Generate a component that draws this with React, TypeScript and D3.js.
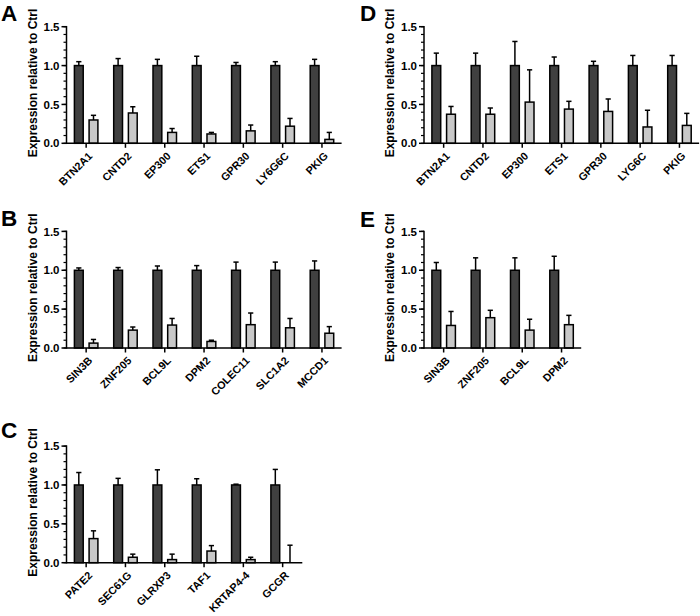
import React from 'react';
import * as d3 from 'd3';

// ---------- DATA ----------
const genesA = ['BTN2A1', 'CNTD2', 'EP300', 'ETS1', 'GPR30', 'LY6G6C', 'PKIG'];
const ctrlA = [1, 1, 1, 1, 1, 1, 1];
const ctrlErrA = [0.05, 0.09, 0.08, 0.12, 0.04, 0.05, 0.08];
const kdA = [0.3, 0.39, 0.14, 0.12, 0.16, 0.22, 0.05];
const kdErrA = [0.06, 0.08, 0.05, 0.02, 0.075, 0.1, 0.09];

const genesB = ['SIN3B', 'ZNF205', 'BCL9L', 'DPM2', 'COLEC11', 'SLC1A2', 'MCCD1'];
const ctrlB = [1, 1, 1, 1, 1, 1, 1];
const ctrlErrB = [0.03, 0.035, 0.055, 0.06, 0.105, 0.105, 0.12];
const kdB = [0.063, 0.23, 0.295, 0.084, 0.3, 0.26, 0.19];
const kdErrB = [0.047, 0.04, 0.085, 0.016, 0.15, 0.12, 0.085];

const genesC = ['PATE2', 'SEC61G', 'GLRXP3', 'TAF1', 'KRTAP4-4', 'GCGR'];
const ctrlC = [1, 1, 1, 1, 1, 1];
const ctrlErrC = [0.16, 0.085, 0.195, 0.08, 0.01, 0.2];
const kdC = [0.31, 0.07, 0.04, 0.15, 0.04, 0];
const kdErrC = [0.1, 0.04, 0.07, 0.07, 0.03, 0.225];

const genesD = ['BTN2A1', 'CNTD2', 'EP300', 'ETS1', 'GPR30', 'LYG6C', 'PKIG'];
const ctrlD = [1, 1, 1, 1, 1, 1, 1];
const ctrlErrD = [0.16, 0.16, 0.31, 0.11, 0.055, 0.13, 0.13];
const kdD = [0.374, 0.374, 0.53, 0.44, 0.41, 0.21, 0.23];
const kdErrD = [0.1, 0.08, 0.415, 0.1, 0.16, 0.215, 0.155];

const genesE = ['SIN3B', 'ZNF205', 'BCL9L', 'DPM2'];
const ctrlE = [1, 1, 1, 1];
const ctrlErrE = [0.1, 0.16, 0.16, 0.18];
const kdE = [0.29, 0.39, 0.23, 0.3];
const kdErrE = [0.18, 0.095, 0.14, 0.12];

const yTicks = ['0.0', '0.5', '1.0', '1.5'];
const yTitle = 'Expression relative to Ctrl';

// ---------- LAYOUT ----------
const W = 700;
const H = 616;
const FONT = "'Liberation Sans', Arial, Helvetica, sans-serif";
const STEP = 39.3;
const PLOT_H = 116.6;
const DARK = '#404040';
const LIGHT = '#c8c8c8';

type PanelProps = {
  letter: string;
  genes: string[];
  ctrl: number[];
  ctrlErr: number[];
  kd: number[];
  kdErr: number[];
  ox: number;
  oy: number;
  lx: number;
  ly: number;
};

function Panel({ letter, genes, ctrl, ctrlErr, kd, kdErr, ox, oy, lx, ly }: PanelProps) {
  const y = d3.scaleLinear().domain([0, 1.5]).range([oy, oy - PLOT_H]);
  const x = d3.scaleBand<string>().domain(genes).range([ox, ox + genes.length * STEP]);
  const sub = d3.scaleBand<string>().domain(['ctrl', 'kd']).range([-11.75, 11.75]).paddingInner(0.4);
  const bw = sub.bandwidth();
  const center = (g: string) => (x(g) as number) + x.bandwidth() / 2;
  const majors = y.ticks(3);
  const minors = y.ticks(15);
  const xEnd = ox + genes.length * STEP;

  const bars = genes.flatMap((g, i) => [
    { g, key: 'ctrl', v: ctrl[i], e: ctrlErr[i], fill: DARK },
    { g, key: 'kd', v: kd[i], e: kdErr[i], fill: LIGHT },
  ]);

  return (
    <g>
      <text x={lx} y={ly} fontFamily={FONT} fontWeight="bold" fontSize={22.5} fill="#000">
        {letter}
      </text>
      {/* bars */}
      {bars.map((b, i) => {
        const bx = center(b.g) + (sub(b.key) as number);
        const cx = bx + bw / 2;
        return (
          <g key={i}>
            <line x1={cx} x2={cx} y1={y(b.v)} y2={y(b.v + b.e)} stroke="#000" strokeWidth={1.5} />
            <line x1={cx - 2.6} x2={cx + 2.6} y1={y(b.v + b.e)} y2={y(b.v + b.e)} stroke="#000" strokeWidth={1.5} />
            {b.v > 0 && (
              <rect x={bx} y={y(b.v)} width={bw} height={y(0) - y(b.v)} fill={b.fill} stroke="#000" strokeWidth={1.5} />
            )}
          </g>
        );
      })}
      {/* y axis */}
      <line x1={ox} x2={ox} y1={oy + 0.75} y2={y(1.5) - 0.75} stroke="#000" strokeWidth={1.5} />
      {minors.map((t, i) => (
        <line key={'mi' + i} x1={ox - 3} x2={ox} y1={y(t)} y2={y(t)} stroke="#000" strokeWidth={1.2} />
      ))}
      {majors.map((t, i) => (
        <g key={'ma' + i}>
          <line x1={ox - 5} x2={ox} y1={y(t)} y2={y(t)} stroke="#000" strokeWidth={1.5} />
          <text
            x={ox - 7}
            y={y(t)}
            dy="0.36em"
            textAnchor="end"
            fontFamily={FONT}
            fontWeight="bold"
            fontSize={11.5}
            fill="#000"
          >
            {yTicks[i]}
          </text>
        </g>
      ))}
      <text
        transform={`translate(${ox - 30},${oy - PLOT_H / 2 - 2}) rotate(-90)`}
        textAnchor="middle"
        fontFamily={FONT}
        fontWeight="bold"
        fontSize={12}
        fill="#000"
      >
        {yTitle}
      </text>
      {/* x axis */}
      <line x1={ox} x2={xEnd} y1={oy} y2={oy} stroke="#000" strokeWidth={1.5} />
      {genes.map((g) => {
        const cx = center(g);
        return (
          <g key={'x' + g}>
            <line x1={cx} x2={cx} y1={oy} y2={oy + 4.5} stroke="#000" strokeWidth={1.5} />
            <text
              transform={`translate(${cx + 1.5},${oy + 8}) rotate(-45)`}
              textAnchor="end"
              dy="0.7em"
              fontFamily={FONT}
              fontWeight="bold"
              fontSize={10.8}
              fill="#000"
            >
              {g}
            </text>
          </g>
        );
      })}
    </g>
  );
}

export default function App() {
  return (
    <svg
      width={W}
      height={H}
      viewBox={`0 0 ${W} ${H}`}
      style={{ position: 'absolute', left: 0, top: 0, background: '#fff' }}
    >
      <rect x={0} y={0} width={W} height={H} fill="#fff" />
      <Panel letter="A" genes={genesA} ctrl={ctrlA} ctrlErr={ctrlErrA} kd={kdA} kdErr={kdErrA} ox={66.5} oy={143.3} lx={1} ly={21} />
      <Panel letter="B" genes={genesB} ctrl={ctrlB} ctrlErr={ctrlErrB} kd={kdB} kdErr={kdErrB} ox={66.5} oy={348} lx={1} ly={226} />
      <Panel letter="C" genes={genesC} ctrl={ctrlC} ctrlErr={ctrlErrC} kd={kdC} kdErr={kdErrC} ox={66.5} oy={562.7} lx={1} ly={437.5} />
      <Panel letter="D" genes={genesD} ctrl={ctrlD} ctrlErr={ctrlErrD} kd={kdD} kdErr={kdErrD} ox={424} oy={143.3} lx={360} ly={21} />
      <Panel letter="E" genes={genesE} ctrl={ctrlE} ctrlErr={ctrlErrE} kd={kdE} kdErr={kdErrE} ox={424} oy={348} lx={360} ly={227} />
    </svg>
  );
}
